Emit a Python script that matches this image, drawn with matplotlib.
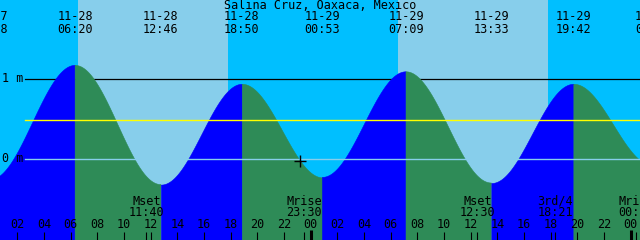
import matplotlib
matplotlib.use("Agg")
import matplotlib.pyplot as plt
import numpy as np
from datetime import datetime

# tide extremes (labels across the top), heights in metres
tide_dates = ["11-27", "11-28", "11-28", "11-28", "11-29", "11-29", "11-29", "11-29", "11-30"]
tide_clock = ["23:58", "06:20", "12:46", "18:50", "00:53", "07:09", "13:33", "19:42", "01:40"]
tide_height = [-0.26, 1.17, -0.32, 0.94, -0.23, 1.09, -0.30, 0.94, -0.08]

# moon events (labels along the bottom)
moon_names = ["Mset", "Mrise", "Mset", "3rd/4", "Mrise"]
moon_dates = ["11-28", "11-28", "11-29", "11-29", "11-30"]
moon_clock = ["11:40", "23:30", "12:30", "18:21", "00:26"]

sunrise = ["11-28 06:33", "11-29 06:32"]
sunset = ["11-28 17:48", "11-29 17:48"]

mean_level = 0.485
now = "11-28 23:12"
title = "Salina Cruz, Oaxaca, Mexico"

REF = datetime(2019, 11, 29, 0, 0)


def hours(s):
    d = datetime.strptime("2019-" + s, "%Y-%m-%d %H:%M")
    return (d - REF).total_seconds() / 3600.0


tt = np.array([hours(d + " " + c) for d, c in zip(tide_dates, tide_clock)])
hh = np.array(tide_height)


def level(t):
    t = np.asarray(t, dtype=float)
    i = np.clip(np.searchsorted(tt, t) - 1, 0, len(tt) - 2)
    t0, t1 = tt[i], tt[i + 1]
    f = (1 - np.cos(np.pi * (t - t0) / (t1 - t0))) / 2
    return hh[i] + (hh[i + 1] - hh[i]) * f


W, H = 640, 240
px_per_h = 320 / 24.0
x0 = -310.7 / px_per_h
x1 = x0 + W / px_per_h
y_top = 159 / 80.0
y_bot = (159 - 240) / 80.0

fig = plt.figure(figsize=(6.4, 2.4), dpi=100)
fig.patch.set_facecolor("#00bfff")
ax = fig.add_axes([0, 0, 1, 1])
ax.set_facecolor("#00bfff")
ax.set_xlim(x0, x1)
ax.set_ylim(y_bot, y_top)
for s in ax.spines.values():
    s.set_visible(False)
ax.set_xticks([])
ax.set_yticks([])

# day time background
for r, s in zip(sunrise, sunset):
    ax.axvspan(hours(r), hours(s), color="#87ceeb", lw=0, zorder=0)

ax.axhline(1.0, xmin=25 / W, xmax=1, color="black", lw=0.9, zorder=1)

# water: blue while rising, green while falling
for i in range(len(tt) - 1):
    t = np.linspace(tt[i], tt[i + 1], 300)
    c = "#0000ff" if hh[i + 1] > hh[i] else "#2e8b57"
    ax.fill_between(t, level(t), y_bot - 1, color=c, lw=0.4, zorder=2)

ax.axhline(mean_level, xmin=25 / W, xmax=1, color="yellow", lw=1.0, zorder=3)
ax.axhline(0.0, xmin=25 / W, xmax=1, color="#87ceeb", lw=1.0, zorder=3)

tn = hours(now)
ax.plot([tn], [level(tn)], marker="+", color="black", ms=8, mew=1.0, zorder=4)

font = dict(family="DejaVu Sans Mono", size=8.5, color="black", zorder=5)
xt = ax.get_xaxis_transform()


def ya(p):
    return 1 - p / H


ax.text(0.5, ya(5.5), title, transform=ax.transAxes, ha="center", va="center", **font)
for t, d, c in zip(tt, tide_dates, tide_clock):
    ax.text(t, ya(17), d, transform=xt, ha="center", va="center", **font)
    ax.text(t, ya(29.5), c, transform=xt, ha="center", va="center", **font)

yt = ax.get_yaxis_transform()
ax.text(2 / W, 1.0, "1 m", transform=yt, ha="left", va="center", **font)
ax.text(2 / W, 0.0, "0 m", transform=yt, ha="left", va="center", **font)

# hour ticks every 2 hours
for h in range(-22, 25, 2):
    lab = "%02d" % (h % 24)
    ax.text(h, ya(225), lab, transform=xt, ha="center", va="center", **font)
    if h % 24 == 0:
        ax.vlines(h, 0, 10 / H, transform=xt, color="black", lw=2.2, zorder=5)
    else:
        ax.vlines(h, 0, 8 / H, transform=xt, color="black", lw=0.8, zorder=5)

for n, d, c in zip(moon_names, moon_dates, moon_clock):
    t = hours(d + " " + c)
    ax.text(t, ya(201.5), n, transform=xt, ha="center", va="center", **font)
    ax.text(t, ya(213), c, transform=xt, ha="center", va="center", **font)
    ax.vlines(t, 0, 8 / H, transform=xt, color="black", lw=0.8, zorder=5)

fig.savefig("out.png", dpi=100, facecolor=fig.get_facecolor())
